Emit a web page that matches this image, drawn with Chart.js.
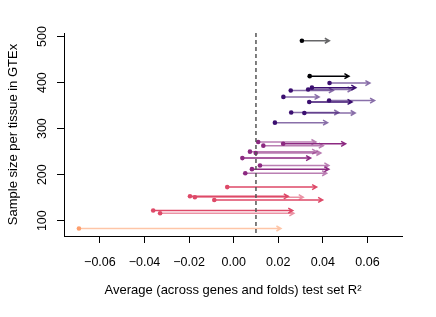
<!DOCTYPE html>
<html>
<head>
<meta charset="utf-8">
<script src="https://cdn.jsdelivr.net/npm/chart.js@4.4.1/dist/chart.umd.min.js"></script>
<style>html,body{margin:0;padding:0;background:#fff}</style>
</head>
<body>
<canvas id="chart1" width="436" height="317"></canvas>
<script>
// one arrow per tissue: start R2 -> end R2, at the tissue's sample size
var sampleSize = [491, 414, 399, 389, 385, 383, 369, 361, 358, 335, 334, 313,
    271, 267, 263, 250, 247, 236, 220, 212, 203, 173, 153, 151, 145, 122, 116, 83];
var r2Start = [0.0306, 0.0341, 0.0430, 0.0351, 0.0334, 0.0256, 0.0223, 0.0428, 0.0339, 0.0258, 0.0317, 0.0185,
    0.0110, 0.0222, 0.0133, 0.0073, 0.0099, 0.0039, 0.0118, 0.0082, 0.0052, -0.0029, -0.0196, -0.0174, -0.0087, -0.0361, -0.0330, -0.0694];
var r2End = [0.0429, 0.0517, 0.0611, 0.0548, 0.0531, 0.0447, 0.0383, 0.0632, 0.0531, 0.0471, 0.0545, 0.0421,
    0.0369, 0.0502, 0.0402, 0.0372, 0.0391, 0.0345, 0.0427, 0.0427, 0.0417, 0.0372, 0.0245, 0.0312, 0.0399, 0.0265, 0.0270, 0.0212];
var lineAlpha = [0.6, 1, 0.6, 1, 0.6, 0.6, 0.6, 0.6, 1, 0.6, 0.6, 0.6,
    0.6, 1, 0.6, 0.6, 0.6, 1, 0.6, 1, 0.6, 1, 1, 0.6, 1, 1, 0.6, 0.6];
var xTicks = [-0.06, -0.04, -0.02, 0.00, 0.02, 0.04, 0.06];
var yTicks = [100, 200, 300, 400, 500];
var cutoff = 0.01;

var magma = ["#FE9F6D", "#DE4968", "#8C2981", "#3B0F70", "#000004"];
function binColor(n) {
    return magma[Math.min(4, Math.floor(n / 100))];
}
function withAlpha(hex, a) {
    return "rgba(" + parseInt(hex.substr(1, 2), 16) + "," + parseInt(hex.substr(3, 2), 16) + "," +
        parseInt(hex.substr(5, 2), 16) + "," + a + ")";
}

var font = "'Liberation Sans', Arial, sans-serif";

var arrowPlugin = {
    id: "arrows",
    beforeDatasetsDraw: function (chart) {
        var ctx = chart.ctx, xs = chart.scales.x, ys = chart.scales.y;
        ctx.save();
        ctx.lineWidth = 1.5;
        for (var i = 0; i < sampleSize.length; i++) {
            var x0 = xs.getPixelForValue(r2Start[i]);
            var x1 = xs.getPixelForValue(r2End[i]);
            var y = ys.getPixelForValue(sampleSize[i]);
            ctx.strokeStyle = withAlpha(binColor(sampleSize[i]), lineAlpha[i]);
            ctx.beginPath();
            ctx.moveTo(x0, y);
            ctx.lineTo(x1, y);
            ctx.moveTo(x1 - 4.5, y - 2.5);
            ctx.lineTo(x1, y);
            ctx.lineTo(x1 - 4.5, y + 2.5);
            ctx.stroke();
        }
        ctx.restore();
    },
    afterDatasetsDraw: function (chart) {
        var ctx = chart.ctx, xs = chart.scales.x, ys = chart.scales.y, a = chart.chartArea;
        ctx.save();
        // dashed reference line
        var xc = xs.getPixelForValue(cutoff);
        ctx.strokeStyle = "#555";
        ctx.lineWidth = 1.5;
        ctx.setLineDash([4, 3]);
        ctx.beginPath();
        ctx.moveTo(xc, a.top);
        ctx.lineTo(xc, a.bottom);
        ctx.stroke();
        ctx.setLineDash([]);
        // rotated y tick labels, as in base R
        ctx.fillStyle = "#000";
        ctx.font = "12.5px " + font;
        ctx.textAlign = "center";
        ctx.textBaseline = "middle";
        yTicks.forEach(function (v) {
            ctx.save();
            ctx.translate(43, ys.getPixelForValue(v));
            ctx.rotate(-Math.PI / 2);
            ctx.fillText(String(v), 0, 0);
            ctx.restore();
        });
        ctx.restore();
    }
};

new Chart(document.getElementById("chart1").getContext("2d"), {
    type: "scatter",
    data: {
        datasets: [{
            data: sampleSize.map(function (n, i) { return { x: r2Start[i], y: n }; }),
            pointRadius: 2.3,
            pointBorderWidth: 0,
            pointBackgroundColor: sampleSize.map(binColor)
        }]
    },
    options: {
        responsive: false,
        animation: false,
        layout: { padding: { top: 33, right: 34, left: 0, bottom: 0 } },
        plugins: { legend: { display: false }, tooltip: { enabled: false } },
        scales: {
            x: {
                type: "linear",
                min: -0.0761,
                max: 0.0755,
                afterBuildTicks: function (s) { s.ticks = xTicks.map(function (v) { return { value: v }; }); },
                afterFit: function (s) { s.height = 81; },
                ticks: {
                    color: "#000",
                    font: { family: font, size: 12.5 },
                    padding: 12,
                    maxRotation: 0,
                    callback: function (v) { return (v < 0 ? "\u2212" : "") + Math.abs(v).toFixed(2); }
                },
                grid: { drawOnChartArea: false, drawTicks: true, tickLength: 7, color: "#000", lineWidth: 1 },
                border: { display: true, color: "#000", width: 1 },
                title: {
                    display: true,
                    text: "Average (across genes and folds) test set R\u00b2",
                    color: "#000",
                    font: { family: font, size: 13 },
                    padding: { top: 0, bottom: 19 }
                }
            },
            y: {
                type: "linear",
                min: 66.7,
                max: 507.8,
                afterBuildTicks: function (s) { s.ticks = yTicks.map(function (v) { return { value: v }; }); },
                afterFit: function (s) { s.width = 64; },
                ticks: { display: false },
                grid: { drawOnChartArea: false, drawTicks: true, tickLength: 7, color: "#000", lineWidth: 1 },
                border: { display: true, color: "#000", width: 1 },
                title: {
                    display: true,
                    text: "Sample size per tissue in GTEx",
                    color: "#000",
                    font: { family: font, size: 13 },
                    padding: { top: 6, bottom: 0 }
                }
            }
        }
    },
    plugins: [arrowPlugin]
});
</script>
</body>
</html>
